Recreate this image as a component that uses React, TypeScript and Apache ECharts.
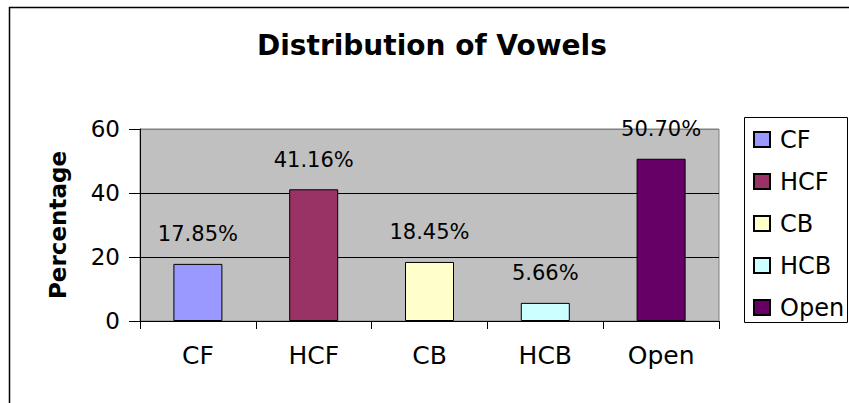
import React, { useEffect, useRef } from "react";
import * as echarts from "echarts";

const categories = ["CF", "HCF", "CB", "HCB", "Open"];
const values = [17.85, 41.16, 18.45, 5.66, 50.7];
const barColors = ["#9999FF", "#993366", "#FFFFCC", "#CCFFFF", "#660066"];
const yMin = 0;
const yMax = 60;
const yInterval = 20;
const titleText = "Distribution of Vowels";
const yAxisTitle = "Percentage";

const FONT = "DejaVu Sans";

export default function App() {
  const ref = useRef<HTMLDivElement>(null);
  useEffect(() => {
    if (!ref.current) return;
    const chart = echarts.init(ref.current, null, { renderer: "svg" });
    const series = categories.map((name, i) => ({
      name,
      type: "bar",
      stack: "all",
      barWidth: 49,
      data: categories.map((_, j) => (j === i ? values[i] : "-")),
      itemStyle: { color: barColors[i], borderColor: "#000", borderWidth: 1 },
      label: {
        show: true,
        position: "top",
        distance: 19,
        fontFamily: FONT,
        fontSize: 21,
        color: "#000",
        formatter: (p: any) => Number(p.value).toFixed(2) + "%",
      },
    }));
    chart.setOption({
      animation: false,
      backgroundColor: "#fff",
      title: {
        text: titleText,
        left: 257,
        top: 31,
        padding: 0,
        textStyle: { fontFamily: FONT, fontSize: 28, fontWeight: "bold", color: "#000" },
      },
      legend: {
        orient: "vertical",
        left: 753,
        top: 127,
        padding: 0,
        itemWidth: 16,
        itemHeight: 15,
        itemGap: 17,
        icon: "rect",
        data: categories,
        textStyle: {
          fontFamily: FONT,
          fontSize: 24,
          lineHeight: 25,
          color: "#000",
          padding: [0, 0, 0, 5],
        },
      },
      grid: {
        left: 140,
        right: 130,
        top: 129,
        bottom: 82,
        show: true,
        backgroundColor: "#C0C0C0",
        borderColor: "#808080",
        borderWidth: 1,
      },
      xAxis: {
        type: "category",
        data: categories,
        axisLine: { lineStyle: { color: "#000", width: 1 } },
        axisTick: { show: true, length: 8, lineStyle: { color: "#000" } },
        axisLabel: { fontFamily: FONT, fontSize: 25, color: "#000", margin: 22 },
      },
      yAxis: {
        type: "value",
        min: yMin,
        max: yMax,
        interval: yInterval,
        name: yAxisTitle,
        nameLocation: "middle",
        nameGap: 71,
        nameTextStyle: { fontFamily: FONT, fontSize: 23, fontWeight: "bold", color: "#000" },
        axisLine: { show: true, lineStyle: { color: "#000", width: 1 } },
        axisTick: { show: true, length: 11, lineStyle: { color: "#000" } },
        axisLabel: { fontFamily: FONT, fontSize: 23, color: "#000", margin: 20 },
        splitLine: {
          show: true,
          lineStyle: { color: ["#000", "#000", "#000", "#808080"], width: 1 },
        },
      },
      graphic: [
        {
          type: "rect",
          shape: { x: 9.5, y: 7.5, width: 1000, height: 1000 },
          style: { fill: "none", stroke: "#000", lineWidth: 1.5 },
          silent: true,
        },
        {
          type: "rect",
          shape: { x: 744.5, y: 117.5, width: 103, height: 205 },
          style: { fill: "none", stroke: "#000", lineWidth: 1 },
          silent: true,
        },
      ],
      series,
    });
    return () => chart.dispose();
  }, []);
  return (
    <div
      ref={ref}
      style={{ position: "fixed", left: 0, top: 0, width: 849, height: 403 }}
    />
  );
}
